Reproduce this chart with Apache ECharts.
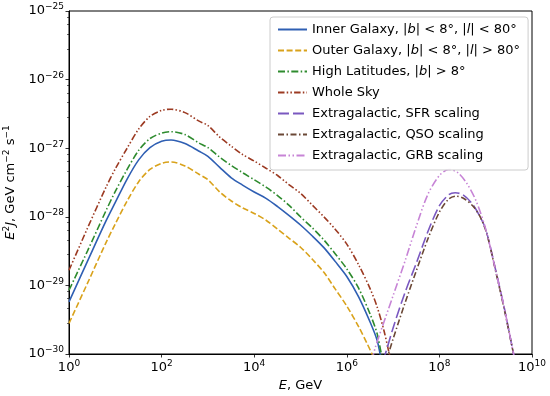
<!DOCTYPE html>
<html>
<head>
<meta charset="utf-8">
<script src="https://cdn.jsdelivr.net/npm/echarts@6/dist/echarts.min.js"></script>
<style>html,body{margin:0;padding:0;background:#fff}#c{width:550px;height:396px}</style>
</head>
<body>
<div id="c"></div>
<script>
// ---- Data ----
// Energy E [GeV] and E^2 J [GeV cm^-2 s^-1]
const innerE = [1, 2.5, 6.3, 10, 18, 32, 56, 100, 160, 320, 630, 1000, 1800, 3200, 5600, 1e4, 1.8e4, 3.2e4, 5.6e4, 1e5, 1.8e5, 3.2e5, 5.6e5, 1e6, 1.8e6, 3.2e6, 4.5e6, 5.25e6, 6e6];
const innerY = [5.75e-30, 2.24e-29, 8.7e-29, 1.62e-28, 3.55e-28, 6.76e-28, 1.02e-27, 1.26e-27, 1.32e-27, 1.17e-27, 9.1e-28, 7.6e-28, 5.25e-28, 3.7e-28, 2.9e-28, 2.3e-28, 1.86e-28, 1.41e-28, 1.05e-28, 7.6e-29, 5.25e-29, 3.55e-29, 2.24e-29, 1.35e-29, 6.8e-30, 2.9e-30, 1.6e-30, 1.0e-30, 7e-31];

const outerE = [1, 2.5, 6.3, 10, 18, 32, 56, 100, 160, 320, 630, 1000, 1800, 3200, 5600, 1e4, 1.8e4, 3.2e4, 5.6e4, 1e5, 1.8e5, 3.2e5, 5.6e5, 1e6, 1.8e6, 2.8e6, 3.5e6, 4e6];
const outerY = [2.8e-30, 1.07e-29, 4.2e-29, 7.9e-29, 1.7e-28, 3.24e-28, 4.9e-28, 6.0e-28, 6.3e-28, 5.5e-28, 4.2e-28, 3.47e-28, 2.3e-28, 1.7e-28, 1.35e-28, 1.12e-28, 8.9e-29, 6.6e-29, 4.9e-29, 3.6e-29, 2.4e-29, 1.55e-29, 8.9e-30, 5.0e-30, 2.5e-30, 1.38e-30, 1.0e-30, 8e-31];

const highE = [1, 2.5, 6.3, 10, 18, 32, 56, 100, 160, 320, 630, 1000, 1800, 3200, 5600, 1e4, 1.8e4, 3.2e4, 5.6e4, 1e5, 1.8e5, 3.2e5, 5.6e5, 1e6, 1.8e6, 3.2e6, 4.5e6, 5.6e6, 6.3e6];
const highY = [8.5e-30, 3.16e-29, 1.23e-28, 2.34e-28, 4.9e-28, 9.3e-28, 1.38e-27, 1.66e-27, 1.74e-27, 1.58e-27, 1.2e-27, 1.02e-27, 7.4e-28, 5.6e-28, 4.4e-28, 3.47e-28, 2.7e-28, 2.04e-28, 1.48e-28, 1.0e-28, 6.9e-29, 4.6e-29, 2.9e-29, 1.74e-29, 9.1e-30, 3.8e-30, 2.0e-30, 1.0e-30, 7.6e-31];

const skyE = [1, 2.5, 6.3, 10, 18, 32, 56, 100, 160, 320, 630, 1000, 1800, 3200, 5600, 1e4, 1.8e4, 3.2e4, 5.6e4, 1e5, 1.8e5, 3.2e5, 5.6e5, 1e6, 1.8e6, 3.2e6, 4.5e6, 6.3e6, 7.9e6, 8.9e6];
const skyY = [1.66e-29, 6.8e-29, 2.7e-28, 5.0e-28, 1.0e-27, 1.9e-27, 2.9e-27, 3.55e-27, 3.7e-27, 3.3e-27, 2.5e-27, 2.14e-27, 1.45e-27, 1.07e-27, 8.1e-28, 6.5e-28, 5.1e-28, 4.0e-28, 2.95e-28, 2.2e-28, 1.48e-28, 1.0e-28, 6.6e-29, 4.0e-29, 2.0e-29, 8.9e-30, 4.9e-30, 2.24e-30, 1.15e-30, 8.3e-31];

const sfrE = [6e6, 6.8e6, 1e7, 1.8e7, 3.2e7, 5.6e7, 1e8, 1.6e8, 2.2e8, 3.2e8, 5e8, 7e8, 1e9, 1.6e9, 2.5e9, 4e9, 4.5e9];
const sfrY = [7.9e-31, 1.0e-30, 2.4e-30, 7.8e-30, 2.14e-29, 6.0e-29, 1.45e-28, 2.1e-28, 2.24e-28, 2.1e-28, 1.58e-28, 1.1e-28, 6.6e-29, 1.8e-29, 4.8e-30, 1.0e-30, 7e-31];

const qsoE = [7.1e6, 7.9e6, 1e7, 1.8e7, 3.2e7, 5.6e7, 1e8, 1.6e8, 2.3e8, 3.5e8, 5.4e8, 7.6e8, 1.05e9, 1.6e9, 2.5e9, 4e9, 4.5e9];
const qsoY = [7.9e-31, 1.0e-30, 1.66e-30, 5.5e-30, 1.66e-29, 4.7e-29, 1.17e-28, 1.82e-28, 2.0e-28, 1.82e-28, 1.41e-28, 1.0e-28, 5.75e-29, 1.74e-29, 4.6e-30, 1.0e-30, 7e-31];

const grbE = [3.5e6, 4.1e6, 1e7, 1.8e7, 3.2e7, 5.6e7, 1e8, 1.6e8, 2.5e8, 4e8, 6.3e8, 1e9, 1.6e9, 2.5e9, 4e9, 4.5e9];
const grbY = [7.9e-31, 1.23e-30, 7.1e-30, 2.24e-29, 7.4e-29, 2.1e-28, 4.0e-28, 4.9e-28, 4.4e-28, 3.0e-28, 1.66e-28, 6.6e-29, 1.78e-29, 4.8e-30, 1.0e-30, 7e-31];

const names = [
  'Inner Galaxy, |{i|b}| < 8°, |{i|l}| < 80°',
  'Outer Galaxy, |{i|b}| < 8°, |{i|l}| > 80°',
  'High Latitudes, |{i|b}| > 8°',
  'Whole Sky',
  'Extragalactic, SFR scaling',
  'Extragalactic, QSO scaling',
  'Extragalactic, GRB scaling'
];
const xRange = [1, 1e10];
const yRange = [1e-30, 1e-25];

// ---- Chart ----
// ECharts rounds very small numbers, so the y values are fed in units of 1e-30 (labels restore the exponent).
const Y_UNIT_EXP = -30;
const Y_UNIT = 1e-30;
const FONT = 'DejaVu Sans';
const chart = echarts.init(document.getElementById('c'));
const zip = (xs, ys) => xs.map((x, i) => [x, ys[i] / Y_UNIT]);

function lineSeries(name, xs, ys, color, dash) {
  return {
    name: name, type: 'line', data: zip(xs, ys), symbol: 'none', showSymbol: false,
    smooth: 0.3,
    clip: true, silent: true,
    lineStyle: {color: color, width: 1.6, type: dash},
    itemStyle: {color: color}
  };
}

const supRich = {
  b: {fontFamily: FONT, fontSize: 13, color: '#000'},
  s: {fontFamily: FONT, fontSize: 9, color: '#000', padding: [0, 0, 8, 0]}
};
function expText(e) { return e < 0 ? '\u2212' + (-e) : String(e); }
function xLabel(v) { return '{b|10}{s|' + expText(Math.round(Math.log10(v))) + '}'; }
function yLabel(v) { return '{b|10}{s|' + expText(Math.round(Math.log10(v)) + Y_UNIT_EXP) + '}'; }

const option = {
  animation: false,
  backgroundColor: '#fff',
  grid: {left: 69, top: 11, right: 18, bottom: 42, show: true, borderColor: '#000', borderWidth: 1,
    containLabel: false, outerBoundsMode: 'none'},
  legend: {
    data: names, orient: 'vertical', left: 270, top: 17,
    itemWidth: 29, itemHeight: 14, itemGap: 6,
    padding: [5, 8, 7, 7],
    itemStyle: {opacity: 0},
    backgroundColor: 'rgba(255,255,255,0.85)', borderColor: '#cccccc', borderWidth: 1, borderRadius: 3,
    textStyle: {fontFamily: FONT, fontSize: 13, color: '#000', lineHeight: 15,
      rich: {i: {fontFamily: FONT, fontSize: 13, fontStyle: 'italic', color: '#000'}}}
  },
  xAxis: {
    type: 'log', logBase: 10, min: xRange[0], max: xRange[1], interval: 2,
    name: '{i|E}, GeV', nameLocation: 'middle', nameGap: 25,
    nameTextStyle: {fontFamily: FONT, fontSize: 13, color: '#000',
      rich: {i: {fontFamily: FONT, fontSize: 13, fontStyle: 'italic', color: '#000'}}},
    axisLine: {show: true, lineStyle: {color: '#000', width: 1}},
    axisTick: {show: true, length: 3.5, lineStyle: {color: '#000', width: 0.8}},
    axisLabel: {formatter: xLabel, rich: supRich, margin: 5},
    splitLine: {show: false}, minorTick: {show: false}, minorSplitLine: {show: false}
  },
  yAxis: {
    type: 'log', logBase: 10, min: yRange[0] / Y_UNIT, max: yRange[1] / Y_UNIT, interval: 1,
    name: '{i|E}{s|2}{i|J}, GeV cm{s|\u22122} s{s|\u22121}', nameLocation: 'middle', nameGap: 48, nameRotate: 90,
    nameTextStyle: {fontFamily: FONT, fontSize: 13, color: '#000',
      rich: {
        i: {fontFamily: FONT, fontSize: 13, fontStyle: 'italic', color: '#000'},
        s: {fontFamily: FONT, fontSize: 9, color: '#000', padding: [0, 0, 8, 0]}
      }},
    axisLine: {show: true, lineStyle: {color: '#000', width: 1}},
    axisTick: {show: true, length: 3.5, lineStyle: {color: '#000', width: 0.8}},
    minorTick: {show: true, length: 2, lineStyle: {color: '#000', width: 0.6}},
    axisLabel: {formatter: yLabel, rich: supRich, margin: 5},
    splitLine: {show: false}, minorSplitLine: {show: false}
  },
  series: [
    lineSeries(names[0], innerE, innerY, '#2f5fb3', 'solid'),
    lineSeries(names[1], outerE, outerY, '#d9a21b', [6, 2.6]),
    lineSeries(names[2], highE, highY, '#2e8b2e', [7, 2.4, 1.5, 2.4]),
    lineSeries(names[3], skyE, skyY, '#9c3a22', [6.5, 2.2, 1.5, 2.2, 1.5, 2.2]),
    lineSeries(names[4], sfrE, sfrY, '#7a58c0', [11, 4]),
    lineSeries(names[5], qsoE, qsoY, '#6b4836', [6, 2.5, 1.5, 2.5]),
    lineSeries(names[6], grbE, grbY, '#c784d6', [8, 2.5, 1.5, 2.5, 1.5, 2.5])
  ]
};
chart.setOption(option);
</script>
</body>
</html>
